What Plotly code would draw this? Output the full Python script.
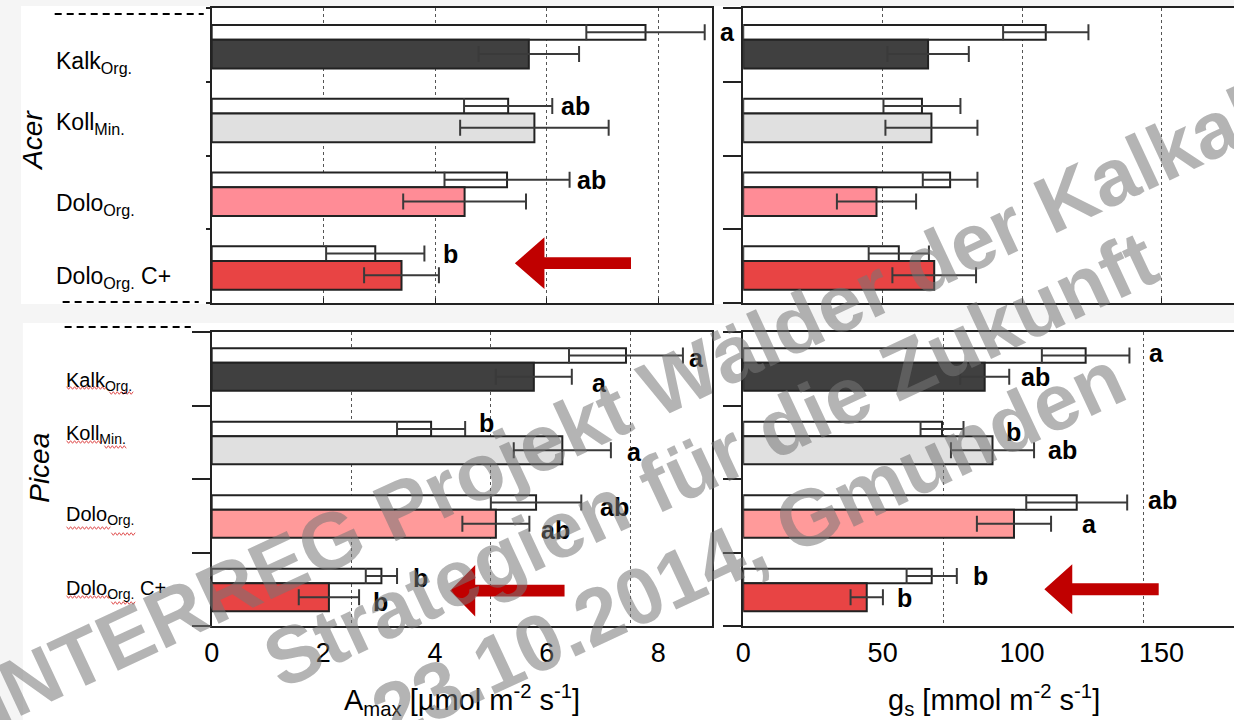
import plotly.graph_objects as go

W, H = 1234, 720
FONT = "Liberation Sans, Arial, sans-serif"

# ---------------- data ----------------
groups = ["Kalk<sub>Org.</sub>", "Koll<sub>Min.</sub>", "Dolo<sub>Org.</sub>", "Dolo<sub>Org.</sub> C+"]
positions = [0, 1, 2, 3]

acer_colors = ["#404040", "#e0e0e0", "#ff8c96", "#e84444"]
picea_colors = ["#404040", "#e0e0e0", "#ff9a9a", "#e84444"]

# Acer, A_max
acer_amax_white = [7.77, 5.31, 5.29, 2.93]
acer_amax_white_err = [1.06, 0.79, 1.12, 0.88]
acer_amax_col = [5.68, 5.78, 4.53, 3.40]
acer_amax_col_err = [0.90, 1.33, 1.10, 0.67]
acer_amax_letters_white = ["a", "ab", "ab", "b"]
acer_amax_letters_col = ["", "", "", ""]

# Acer, g_s
acer_gs_white = [108.5, 64.1, 74.2, 55.8]
acer_gs_white_err = [15.3, 13.8, 9.8, 10.8]
acer_gs_col = [66.3, 67.5, 47.8, 68.5]
acer_gs_col_err = [14.6, 16.5, 14.2, 15.0]
acer_gs_letters_white = ["", "", "", ""]
acer_gs_letters_col = ["", "", "", ""]

# Picea, A_max
picea_amax_white = [7.42, 3.93, 5.81, 3.04]
picea_amax_white_err = [1.02, 0.61, 0.81, 0.28]
picea_amax_col = [5.77, 6.28, 5.09, 2.10]
picea_amax_col_err = [0.68, 0.87, 0.60, 0.54]
picea_amax_letters_white = ["a", "b", "ab", "b"]
picea_amax_letters_col = ["a", "a", "ab", "b"]

# Picea, g_s
picea_gs_white = [122.8, 71.3, 119.6, 67.6]
picea_gs_white_err = [15.7, 7.7, 18.1, 9.0]
picea_gs_col = [86.6, 89.4, 97.1, 44.3]
picea_gs_col_err = [8.8, 14.9, 13.3, 5.8]
picea_gs_letters_white = ["a", "b", "ab", "b"]
picea_gs_letters_col = ["ab", "ab", "a", "b"]

amax_ticks = [0, 2, 4, 6, 8]
gs_ticks = [0, 50, 100, 150]

# ---------------- layout helpers (pixels -> paper) ----------------
def px(x):
    return x / W


def py(y):
    return 1 - y / H


panels = [
    dict(ax="", x=(205, 709), y=(8, 303), rng=[0, 8.968], white=acer_amax_white, werr=acer_amax_white_err,
         col=acer_amax_col, cerr=acer_amax_col_err, lw=acer_amax_letters_white, lc=acer_amax_letters_col,
         colors=acer_colors, woff=-0.27, coff=-0.07, cw=0.39, grid=[2, 4, 6, 8], minor=None,
         ticks=amax_ticks, yticklen=4, mirror_y=True,
         wshift=[13, 7, 5, 17], wdy=[0, 0, 0, 0], cshift=[0, 0, 0, 0], cdy=[0, 0, 0, 0]),
    dict(ax="2", x=(740, 1234), y=(8, 303), rng=[0, 176.0], white=acer_gs_white, werr=acer_gs_white_err,
         col=acer_gs_col, cerr=acer_gs_col_err, lw=acer_gs_letters_white, lc=acer_gs_letters_col,
         colors=acer_colors, woff=-0.27, coff=-0.07, cw=0.39, grid=[50, 100, 150], minor=None,
         ticks=gs_ticks, yticklen=18, mirror_y=False,
         wshift=[0, 0, 0, 0], wdy=[0, 0, 0, 0], cshift=[0, 0, 0, 0], cdy=[0, 0, 0, 0]),
    dict(ax="3", x=(205, 709), y=(332, 626), rng=[0, 8.968], white=picea_amax_white, werr=picea_amax_white_err,
         col=picea_amax_col, cerr=picea_amax_col_err, lw=picea_amax_letters_white, lc=picea_amax_letters_col,
         colors=picea_colors, woff=-0.28, coff=-0.08, cw=0.38, grid=None, minor=[2.5, 5, 7.5],
         ticks=amax_ticks, yticklen=18, mirror_y=True,
         wshift=[4, 12, 17, 14], wdy=[2, -6, 4, 2], cshift=[18, 14, 10, 12], cdy=[6, 2, 6, 5]),
    dict(ax="4", x=(740, 1234), y=(332, 626), rng=[0, 176.0], white=picea_gs_white, werr=picea_gs_white_err,
         col=picea_gs_col, cerr=picea_gs_col_err, lw=picea_gs_letters_white, lc=picea_gs_letters_col,
         colors=picea_colors, woff=-0.28, coff=-0.08, cw=0.38, grid=None, minor=[72, 143.6],
         ticks=gs_ticks, yticklen=18, mirror_y=False,
         wshift=[18, 40, 19, 14], wdy=[-3, 3, -3, 0], cshift=[10, 12, 29, 12], cdy=[0, 0, 0, 1]),
]

fig = go.Figure()
annotations = []
shapes = []

# light grey frame of the composite picture
shapes.append(dict(type="rect", xref="paper", yref="paper", x0=px(13), x1=1, y0=py(304), y1=py(6),
                   fillcolor="white", line=dict(width=0), layer="below"))
shapes.append(dict(type="rect", xref="paper", yref="paper", x0=px(15), x1=1, y0=0, y1=py(323),
                   fillcolor="white", line=dict(width=0), layer="below"))

layout_axes = {}
for p in panels:
    xa = "x" + p["ax"]
    ya = "y" + p["ax"]
    # white (thin) bars
    fig.add_trace(go.Bar(
        x=p["white"], y=positions, orientation="h", xaxis=xa, yaxis=ya,
        offset=p["woff"], width=0.2,
        marker=dict(color="white", line=dict(color="#222222", width=2)),
        error_x=dict(type="data", array=p["werr"], symmetric=True, color="#3a3a3a", thickness=2, width=8),
        showlegend=False, hoverinfo="skip"))
    # coloured bars
    fig.add_trace(go.Bar(
        x=p["col"], y=positions, orientation="h", xaxis=xa, yaxis=ya,
        offset=p["coff"], width=p["cw"],
        marker=dict(color=p["colors"], line=dict(color="#222222", width=2)),
        error_x=dict(type="data", array=p["cerr"], symmetric=True, color="#3a3a3a", thickness=2, width=8),
        showlegend=False, hoverinfo="skip"))

    xkey = "xaxis" + p["ax"]
    ykey = "yaxis" + p["ax"]
    xdict = dict(domain=[px(p["x"][0]), px(p["x"][1])], range=p["rng"], anchor=ya,
                 showline=True, linecolor="#222222", linewidth=1.5, mirror=True,
                 zeroline=False, fixedrange=True)
    if p["grid"] is not None:
        xdict.update(tickmode="array", tickvals=p["grid"], showticklabels=False,
                     ticks="inside", ticklen=5, tickcolor="#222222",
                     showgrid=True, griddash="dot", gridcolor="#555555", gridwidth=1)
    else:
        xdict.update(tickmode="array", tickvals=p["ticks"], ticktext=[str(t) for t in p["ticks"]],
                     showticklabels=True, ticks="", showgrid=False,
                     tickfont=dict(family=FONT, size=27, color="black"), ticklabelstandoff=2,
                     minor=dict(tickmode="array", tickvals=p["minor"], showgrid=True, griddash="dot",
                                gridcolor="#555555", gridwidth=1, ticks=""))
    ydict = dict(domain=[py(p["y"][1]), py(p["y"][0])], range=[3.5, -0.5], anchor=xa,
                 showline=True, linecolor="#222222", linewidth=2, mirror=p["mirror_y"],
                 tickmode="array", tickvals=[-0.5, 0.5, 1.5, 2.5, 3.5], showticklabels=False,
                 ticks="outside", ticklen=p["yticklen"], tickwidth=2, tickcolor="#222222",
                 showgrid=False, zeroline=False, fixedrange=True)
    layout_axes[xkey] = xdict
    layout_axes[ykey] = ydict

    # significance letters
    for i in positions:
        if p["lw"][i]:
            annotations.append(dict(
                x=p["white"][i] + p["werr"][i], y=i + p["woff"] + 0.1, xref=xa, yref=ya,
                text="<b>%s</b>" % p["lw"][i], showarrow=False, xanchor="left", yanchor="middle",
                xshift=p["wshift"][i], yshift=-p["wdy"][i],
                font=dict(family=FONT, size=25, color="black")))
        if p["lc"][i]:
            annotations.append(dict(
                x=p["col"][i] + p["cerr"][i], y=i + p["coff"] + p["cw"] / 2, xref=xa, yref=ya,
                text="<b>%s</b>" % p["lc"][i], showarrow=False, xanchor="left", yanchor="middle",
                xshift=p["cshift"][i], yshift=-p["cdy"][i],
                font=dict(family=FONT, size=25, color="black")))

# group labels
acer_label_y = [0.24, 1.06, 2.16, 3.16]
picea_label_y = [0.17, 0.90, 2.00, 3.01]
for i, g in enumerate(groups):
    annotations.append(dict(x=px(46), y=acer_label_y[i], xref="paper", yref="y", text=g,
                            showarrow=False, xanchor="left", yanchor="middle",
                            font=dict(family=FONT, size=23, color="black")))
    annotations.append(dict(x=px(56), y=picea_label_y[i], xref="paper", yref="y3", text=g,
                            showarrow=False, xanchor="left", yanchor="middle",
                            font=dict(family=FONT, size=20, color="black")))

# red spell-check squiggles under the Picea labels (decoration)
squiggles = [(59, 100, 388), (102, 127, 393), (59, 96, 442), (97, 120, 447),
             (59, 103, 528), (104, 129, 534), (59, 103, 597), (104, 129, 603)]


def zigzag(x0, x1, y, amp=1.3, step=2.0):
    pts = []
    x = x0
    k = 0
    while x <= x1:
        yy = y + (amp if k % 2 else -amp)
        pts.append("%s%.5f,%.5f" % ("M" if k == 0 else "L", px(x), py(yy)))
        x += step
        k += 1
    return " ".join(pts)


for (a, b, yy) in squiggles:
    shapes.append(dict(type="path", xref="paper", yref="paper", path=zigzag(a, b, yy),
                       line=dict(color="#e05050", width=1)))

# species labels
annotations.append(dict(x=px(25), y=py(140), xref="paper", yref="paper", text="<i>Acer</i>",
                        showarrow=False, textangle=-90, xanchor="center", yanchor="middle",
                        font=dict(family=FONT, size=28, color="black")))
annotations.append(dict(x=px(31), y=py(468), xref="paper", yref="paper", text="<i>Picea</i>",
                        showarrow=False, textangle=-90, xanchor="center", yanchor="middle",
                        font=dict(family=FONT, size=28, color="black")))

# axis titles
annotations.append(dict(x=px(457), y=py(700), xref="paper", yref="paper",
                        text="A<sub>max</sub> [µmol m<sup>-2</sup> s<sup>-1</sup>]", showarrow=False,
                        xanchor="center", yanchor="middle",
                        font=dict(family=FONT, size=29, color="black")))
annotations.append(dict(x=px(992), y=py(700), xref="paper", yref="paper",
                        text="g<sub>s</sub> [mmol m<sup>-2</sup> s<sup>-1</sup>]", showarrow=False,
                        xanchor="center", yanchor="middle",
                        font=dict(family=FONT, size=29, color="black")))

# dashed separator lines at the left
for (a, b, yy) in [(47, 197, 14), (55, 192, 302), (57, 184, 327)]:
    shapes.append(dict(type="line", xref="paper", yref="paper", x0=px(a), x1=px(b), y0=py(yy), y1=py(yy),
                       line=dict(color="black", width=2, dash="7px,5px")))

# red arrows (tip, head base, tail, y centre, shaft half height, head half height)
arrows = [("x", "y", 5.43, 5.96, 7.51, 2.96, 0.08, 0.35),
          ("x3", "y3", 4.27, 4.72, 6.32, 3.02, 0.08, 0.35),
          ("x4", "y4", 108, 118, 149, 3.00, 0.08, 0.34)]
for (xr, yr, tip, base, tail, yc, sh, hh) in arrows:
    path = ("M%s,%s L%s,%s L%s,%s L%s,%s L%s,%s L%s,%s L%s,%s Z" %
            (tip, yc, base, yc - hh, base, yc - sh, tail, yc - sh, tail, yc + sh, base, yc + sh, base, yc + hh))
    shapes.append(dict(type="path", xref=xr, yref=yr, path=path, fillcolor="#c00000",
                       line=dict(width=0)))

# watermark
wm_color = "rgba(118,118,118,0.55)"
for txt, cx, cy in [("INTERREG Projekt Wälder der Kalkalpen", 680, 376),
                    ("Strategien für die Zukunft", 707, 460),
                    ("23.10.2014, Gmunden", 745, 545)]:
    annotations.append(dict(x=px(cx), y=py(cy), xref="paper", yref="paper", text="<b>%s</b>" % txt,
                            showarrow=False, textangle=-25, xanchor="center", yanchor="middle",
                            font=dict(family=FONT, size=80, color=wm_color)))

fig.update_layout(
    width=W, height=H, margin=dict(l=0, r=0, t=0, b=0),
    paper_bgcolor="#f5f5f5", plot_bgcolor="white",
    barmode="overlay", showlegend=False,
    annotations=annotations, shapes=shapes,
    font=dict(family=FONT, color="black"),
    **layout_axes)

fig.write_html("out.html", config={"displayModeBar": False},
               post_script="document.body.style.margin='0';document.body.style.overflow='hidden';")
